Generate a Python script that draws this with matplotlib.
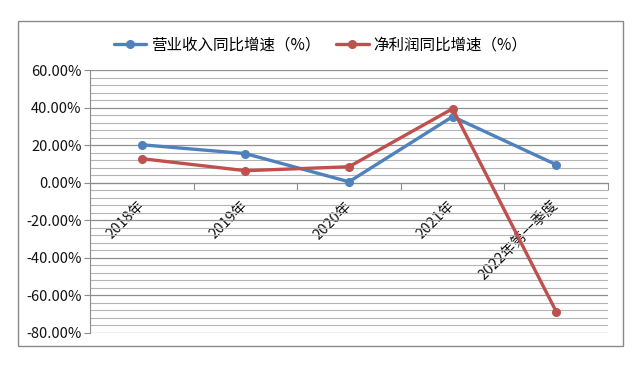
import numpy as np
import matplotlib.pyplot as plt
from matplotlib.patches import Rectangle
from matplotlib.ticker import MultipleLocator, FuncFormatter

plt.rcParams['font.family'] = ['Noto Sans CJK SC', 'DejaVu Sans']

# Data (percent)
categories = ["2018年", "2019年", "2020年", "2021年", "2022年第一季度"]
revenue_growth = [20.2, 15.5, 0.5, 35.2, 9.6]
profit_growth = [12.8, 6.4, 8.5, 39.4, -68.6]
series_names = ["营业收入同比增速（%）", "净利润同比增速（%）"]

blue = "#4F81BD"
red = "#C0504D"
gray = "#8C8C8C"

fig = plt.figure(figsize=(6.41, 3.66), dpi=100)
ax = fig.add_axes([90 / 641, 1 - 333 / 366, (608 - 90) / 641, (333 - 70) / 366])

# outer chart border
fig.patches.append(Rectangle((18 / 641, 1 - 346 / 366), 605 / 641, 325 / 366,
                             transform=fig.transFigure, fill=False,
                             edgecolor="#8A8A8A", lw=1.0))

x = np.arange(len(categories))
ax.plot(x, revenue_growth, color=blue, lw=2.4, marker="o", ms=5.5,
        label=series_names[0], solid_capstyle="round", zorder=3)
ax.plot(x, profit_growth, color=red, lw=2.4, marker="o", ms=5.5,
        label=series_names[1], solid_capstyle="round", zorder=3)

ax.set_xlim(-0.5, len(categories) - 0.5)
ax.set_ylim(-80, 60)

# y axis
ax.yaxis.set_major_locator(MultipleLocator(20))
ax.yaxis.set_minor_locator(MultipleLocator(4))
ax.yaxis.set_major_formatter(FuncFormatter(lambda v, p: f"{v:.2f}%"))
ax.tick_params(axis="y", which="major", direction="out", length=4,
               color=gray, labelsize=10.5, labelcolor="#111111", pad=2)
ax.tick_params(axis="y", which="minor", length=0)
ax.grid(axis="y", which="major", color="#8F8F8F", lw=0.9, zorder=0)
ax.grid(axis="y", which="minor", color="#B4B4B4", lw=0.8, zorder=0)

# x axis crossing at zero
ax.spines["bottom"].set_position(("data", 0))
ax.spines["bottom"].set_color(gray)
ax.spines["left"].set_color(gray)
ax.spines["top"].set_visible(False)
ax.spines["right"].set_visible(False)
ax.set_xticks(np.arange(-0.5, len(categories), 1.0))
ax.set_xticklabels([])
ax.tick_params(axis="x", which="major", direction="out", length=5, color=gray)
ax.set_xticks(x, minor=True)
ax.set_xticklabels(categories, minor=True, rotation=45, ha="right",
                   va="center", rotation_mode="anchor", fontsize=10.5,
                   color="#111111")
ax.tick_params(axis="x", which="minor", length=0, pad=15)

fig.legend(loc="center", bbox_to_anchor=(0.5, 1 - 45 / 366), ncol=2,
           frameon=False, fontsize=11.2, handlelength=2.1,
           columnspacing=1.0, handletextpad=0.3)

fig.savefig("out.png", dpi=100)
